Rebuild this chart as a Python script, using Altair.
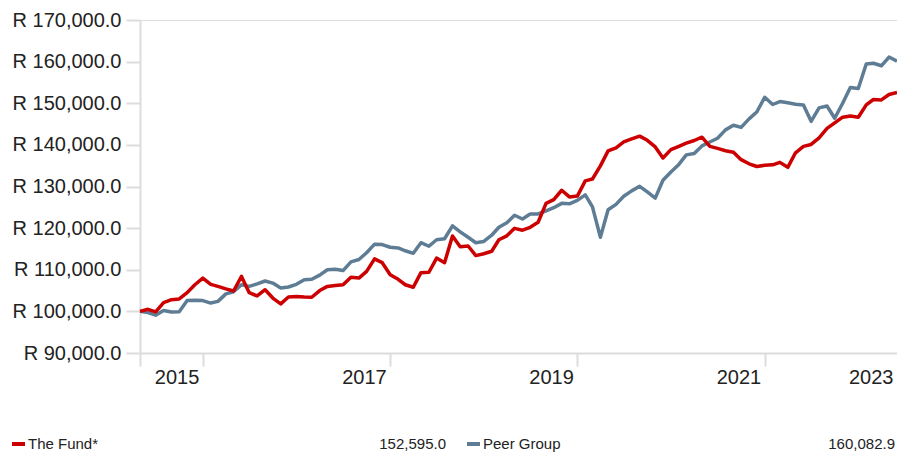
import altair as alt
import pandas as pd

# ---- data ----
months = [d.strftime("%Y-%m-%d") for d in pd.date_range("2014-05-01", periods=98, freq="MS")]

fund = [
    100000, 100500, 99900, 102100, 102800, 103000, 104500, 106400, 108000, 106500,
    106000, 105400, 104900, 108400, 104500, 103700, 105200, 103200, 101800, 103450,
    103550, 103450, 103400, 105000, 106000, 106200, 106400, 108200, 108000, 109600,
    112600, 111700, 108800, 107700, 106400, 105800, 109300, 109400, 112800, 111700,
    118100, 115500, 115700, 113400, 113850, 114450, 117200, 118150, 119950, 119500,
    120200, 121400, 125950, 126850, 129100, 127500, 127700, 131350, 131800, 134950,
    138550, 139300, 140700, 141450, 142100, 141100, 139500, 136850, 138850, 139650,
    140400, 141050, 141850, 139650, 139150, 138600, 138250, 136450, 135450, 134800,
    135100, 135200, 135800, 134600, 138100, 139650, 140100, 141700, 143950, 145300,
    146650, 146950, 146650, 149600, 150900, 150800, 152100, 152595.0,
]

peer = [
    100000, 99700, 99100, 100200, 99850, 99900, 102600, 102700, 102600, 102000,
    102400, 104200, 104700, 106400, 106000, 106600, 107300, 106800, 105600, 105850,
    106500, 107600, 107700, 108700, 110000, 110100, 109800, 111900, 112450, 114100,
    116150, 116050, 115400, 115250, 114560, 113950, 116500, 115650, 117200, 117450,
    120550, 119100, 117800, 116500, 116800, 118300, 120200, 121300, 123100, 122200,
    123400, 123400, 124150, 124900, 125950, 125850, 126650, 128000, 125100, 117800,
    124400, 125700, 127650, 128950, 130050, 128700, 127200, 131500, 133500, 135300,
    137600, 137950, 139750, 140700, 141600, 143600, 144700, 144200, 146250, 147900,
    151450, 149700, 150400, 150100, 149750, 149600, 145650, 148900, 149350, 146400,
    150000, 153800, 153550, 159450, 159600, 159000, 161100, 160082.9,
]

series_names = ["The Fund*", "Peer Group"]
series_colors = ["#cc0000", "#5e7d95"]
y_ticks = list(range(90000, 170001, 10000))

df = pd.DataFrame({
    "date": months * 2,
    "value": fund + peer,
    "series": [series_names[0]] * len(fund) + [series_names[1]] * len(peer),
})

AXIS_GRAY = "#dcdcdc"
TEXT = "#222222"
FONT = "Liberation Sans"

x_axis = alt.Axis(
    title=None,
    values=[
        alt.DateTime(year=2014, month=5, date=1, utc=True),
        alt.DateTime(year=2015, month=1, date=1, utc=True),
        alt.DateTime(year=2017, month=1, date=1, utc=True),
        alt.DateTime(year=2019, month=1, date=1, utc=True),
        alt.DateTime(year=2021, month=1, date=1, utc=True),
        alt.DateTime(year=2022, month=6, date=1, utc=True),
    ],
    labelExpr="datum.value > utc(2022,0,1) ? '2023' : (datum.value < utc(2014,11,1) ? '' : utcFormat(datum.value, '%Y'))",
    labelAlign="right",
    labelOffset=-4,
    labelPadding=1,
    labelFont=FONT,
    labelFontSize=20,
    labelColor=TEXT,
    labelOverlap=False,
    labelFlush=False,
    tickSize=13,
    tickColor=AXIS_GRAY,
    tickWidth=2,
    tickOpacity={"condition": {"test": "datum.value > utc(2022,0,1)", "value": 0}, "value": 1},
    domainColor=AXIS_GRAY,
    domainWidth=2,
    grid=False,
)

y_axis = alt.Axis(
    title=None,
    values=y_ticks,
    labelExpr="'R ' + format(datum.value, ',.1f')",
    labelPadding=5,
    labelFont=FONT,
    labelFontSize=20,
    labelColor=TEXT,
    tickSize=14,
    tickColor=AXIS_GRAY,
    tickWidth=2,
    domainColor=AXIS_GRAY,
    domainWidth=2,
    grid=False,
)

x_enc = alt.X("date:T", scale=alt.Scale(type="utc", nice=False), axis=x_axis)
y_enc = alt.Y("value:Q", scale=alt.Scale(domain=[90000, 170000], nice=False, zero=False), axis=y_axis)
color_enc = alt.Color("series:N", scale=alt.Scale(domain=series_names, range=series_colors), legend=None)

base = alt.Chart(df).mark_line(strokeWidth=3.5, strokeJoin="round").encode(x=x_enc, y=y_enc, color=color_enc)
peer_line = base.transform_filter(alt.datum.series == series_names[1])
fund_line = base.transform_filter(alt.datum.series == series_names[0])


def legend_item(name, last_value, color, x0, x_value_right):
    item = pd.DataFrame({"series": [name], "value": [last_value]})
    c = alt.Chart(item)
    dash = c.mark_rule(strokeWidth=4, color=color).encode(
        x=alt.value(x0), x2=alt.value(x0 + 13), y=alt.value(424)
    )
    label = c.mark_text(align="left", baseline="alphabetic", font=FONT, fontSize=15, color=TEXT).encode(
        x=alt.value(x0 + 16), y=alt.value(429), text="series:N"
    )
    val = c.mark_text(align="right", baseline="alphabetic", font=FONT, fontSize=15, color=TEXT).encode(
        x=alt.value(x_value_right), y=alt.value(429), text=alt.Text("value:Q", format=",.1f")
    )
    return [dash, label, val]


legend_layers = (
    legend_item(series_names[0], fund[-1], series_colors[0], -128, 306)
    + legend_item(series_names[1], peer[-1], series_colors[1], 327, 755)
)

chart = alt.layer(peer_line, fund_line, *legend_layers).properties(
    width=757,
    height=333,
    autosize=alt.AutoSizeParams(type="none"),
    padding={"left": 132, "top": 12, "right": 0, "bottom": 101},
).configure_view(stroke=None).configure(background="white")

chart.save("out.html", embed_options={"renderer": "svg", "actions": False})
